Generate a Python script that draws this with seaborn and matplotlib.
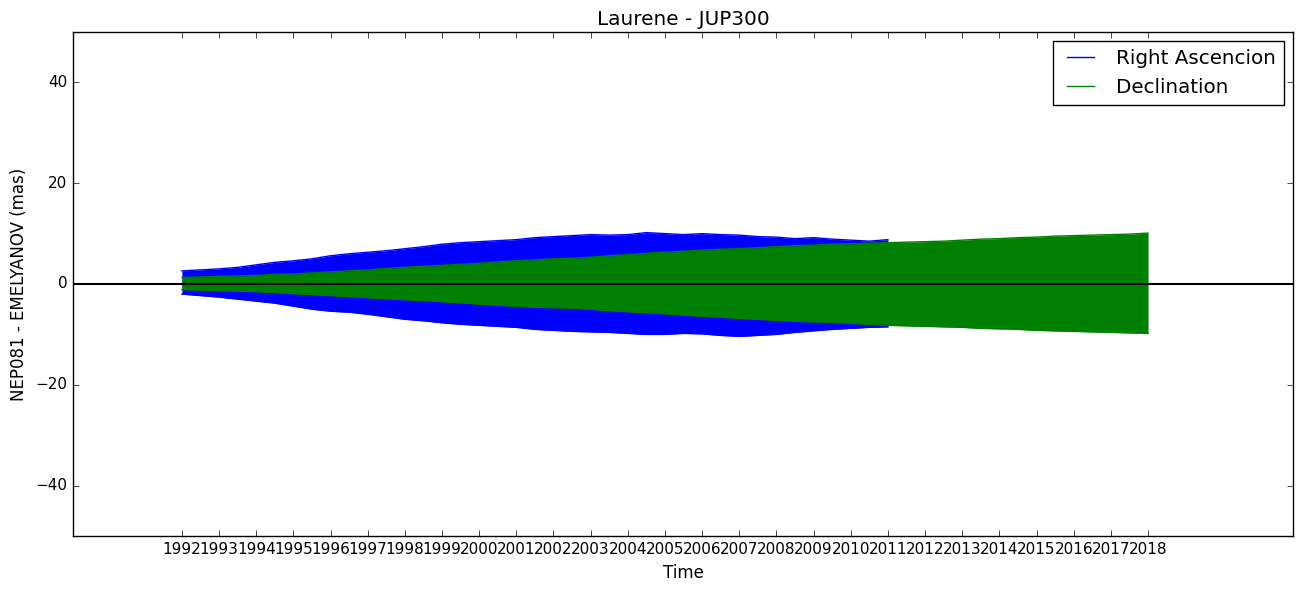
import numpy as np
import pandas as pd
import matplotlib
matplotlib.use("Agg")
import matplotlib.pyplot as plt
import seaborn as sns

# ---- data (envelope of the oscillating residuals, mas) ----
ra_years = [1992.0 + 0.5 * i for i in range(39)]          # 1992.0 .. 2011.0
ra_upper = [2.6, 2.8, 3.0, 3.3, 3.8, 4.3, 4.6, 5.0, 5.6, 6.0,
            6.3, 6.6, 7.0, 7.4, 7.9, 8.2, 8.4, 8.6, 8.8, 9.2,
            9.4, 9.6, 9.8, 9.7, 9.8, 10.2, 10.0, 9.8, 10.0, 9.8,
            9.7, 9.4, 9.3, 9.0, 9.2, 8.9, 8.7, 8.5, 8.8]
ra_lower = [-2.0, -2.3, -2.6, -3.0, -3.4, -3.8, -4.4, -5.0, -5.4, -5.6,
            -6.0, -6.5, -7.0, -7.3, -7.7, -8.0, -8.2, -8.4, -8.6, -9.0,
            -9.2, -9.4, -9.5, -9.6, -9.8, -10.0, -10.0, -9.8, -9.9, -10.2,
            -10.4, -10.2, -10.0, -9.6, -9.3, -9.0, -8.8, -8.6, -8.5]

dec_years = [1992.0 + 0.5 * i for i in range(53)]         # 1992.0 .. 2018.0
dec_upper = [1.3, 1.4, 1.5, 1.6, 1.7, 1.9, 2.0, 2.2, 2.4, 2.6,
             2.8, 3.1, 3.3, 3.5, 3.7, 3.9, 4.1, 4.4, 4.6, 4.8,
             5.0, 5.1, 5.3, 5.6, 5.8, 6.1, 6.3, 6.5, 6.7, 6.9,
             7.0, 7.2, 7.4, 7.6, 7.7, 7.9, 8.0, 8.1, 8.2, 8.3,
             8.4, 8.5, 8.7, 8.9, 9.0, 9.2, 9.3, 9.5, 9.6, 9.7,
             9.8, 9.9, 10.1]
dec_lower = [-1.1, -1.2, -1.3, -1.4, -1.5, -1.7, -1.9, -2.1, -2.3, -2.5,
             -2.7, -2.9, -3.1, -3.3, -3.5, -3.7, -4.0, -4.2, -4.4, -4.6,
             -4.7, -4.8, -5.0, -5.3, -5.5, -5.7, -5.9, -6.2, -6.4, -6.6,
             -6.8, -7.0, -7.2, -7.4, -7.5, -7.6, -7.8, -8.0, -8.2, -8.3,
             -8.4, -8.5, -8.6, -8.8, -8.9, -9.0, -9.2, -9.3, -9.4, -9.5,
             -9.6, -9.7, -9.8]

tick_years = list(range(1992, 2019))
series_labels = ["Right Ascencion", "Declination"]

# ---- style ----
plt.style.use("classic")
plt.rcParams["font.family"] = ["DejaVu Sans"]
plt.rcParams["figure.facecolor"] = "white"
plt.rcParams["savefig.facecolor"] = "white"

fig = plt.figure(figsize=(13.03, 5.94), dpi=100)
ax = fig.add_axes([73 / 1303, 1 - 536 / 594, (1293 - 73) / 1303, (536 - 32) / 594])


def long_df(years, upper, lower):
    return pd.DataFrame({
        "t": list(years) + list(years),
        "v": list(upper) + list(lower),
        "edge": ["upper"] * len(years) + ["lower"] * len(years),
    })


handles = []
for years, up, lo, color, lab in [
    (ra_years, ra_upper, ra_lower, (0, 0, 1), series_labels[0]),
    (dec_years, dec_upper, dec_lower, (0, 0.5, 0), series_labels[1]),
]:
    df = long_df(years, up, lo)
    sns.lineplot(data=df, x="t", y="v", units="edge", estimator=None,
                 sort=False, color=color, lw=1.0, ax=ax, legend=False)
    ax.fill_between(years, lo, up, color=color, lw=0)
    handles.append(plt.Line2D([], [], color=color, lw=1.0, label=lab))

ax.axhline(0, color="black", lw=1.5, zorder=5)

ax.set_xlim(1989.07, 2021.9)
ax.set_ylim(-50, 50)
ax.set_xticks(tick_years)
ax.set_xticklabels([str(y) for y in tick_years])
ax.set_yticks([-40, -20, 0, 20, 40])
ax.tick_params(labelsize=11, direction="in", top=True, right=True)

ax.set_xlabel("Time", fontsize=12)
ax.set_ylabel("NEP081 - EMELYANOV (mas)", fontsize=12)
ax.set_title("Laurene - JUP300", fontsize=14.4)

leg = ax.legend(handles=handles, loc="upper right", fontsize=14.3,
                fancybox=False, frameon=True, borderaxespad=0.45)
leg.get_frame().set_edgecolor("black")

fig.savefig("out.png", dpi=100)
